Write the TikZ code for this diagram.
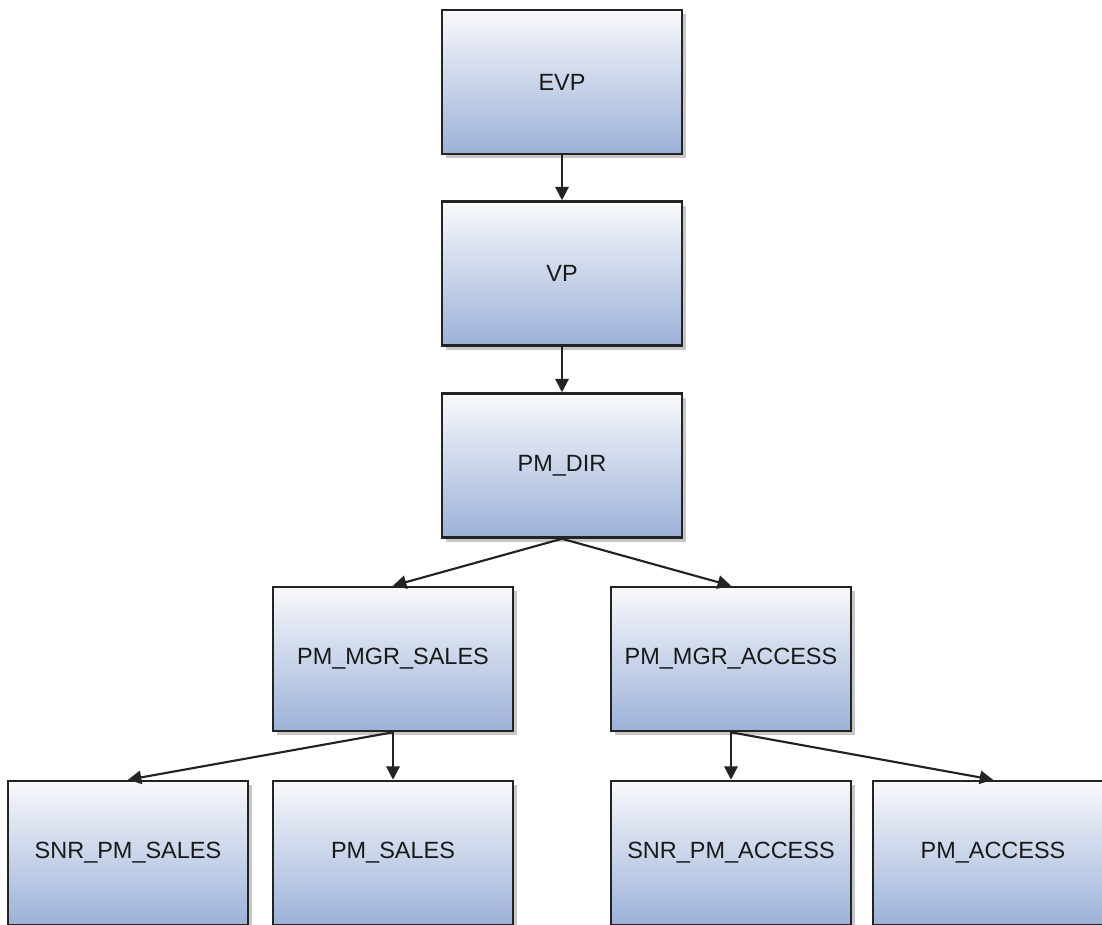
\documentclass[tikz,border=0pt]{standalone}
\usepackage{fontspec}
\setmainfont{Liberation Sans}
\usetikzlibrary{arrows.meta,shadows}
\definecolor{boxtop}{RGB}{248,249,251}
\definecolor{boxbot}{RGB}{156,177,217}
\definecolor{edge}{RGB}{35,35,35}
\tikzset{
  rolebox/.style={draw=edge, line width=1.9pt, rectangle,
    minimum width=180pt, minimum height=108pt, inner sep=0pt,
    top color=boxtop, bottom color=boxbot,
    font=\fontsize{17.6pt}{20pt}\selectfont, text=black!90,
    drop shadow={shadow xshift=3pt, shadow yshift=-3pt, opacity=0.22, fill=black}},
  link/.style={draw=edge, line width=1.6pt, -{Triangle[length=10pt,width=10pt]}}
}
\begin{document}
\begin{tikzpicture}[x=0.75pt,y=-0.75pt]
\useasboundingbox (0,0) rectangle (1102,924);
\node[rolebox] (evp) at (562,82) {EVP};
\node[rolebox] (vp) at (562,273.5) {VP};
\node[rolebox] (dir) at (562,465.5) {PM\_DIR};
\node[rolebox] (mgrs) at (393,659) {PM\_MGR\_SALES};
\node[rolebox] (mgra) at (731,659) {PM\_MGR\_ACCESS};
\node[rolebox] (snrs) at (128,853) {SNR\_PM\_SALES};
\node[rolebox] (pms) at (393,853) {PM\_SALES};
\node[rolebox] (snra) at (731,853) {SNR\_PM\_ACCESS};
\node[rolebox] (pma) at (993,853) {PM\_ACCESS};
\draw[link] (evp.south) -- (vp.north);
\draw[link] (vp.south) -- (dir.north);
\draw[link] (dir.south) -- (mgrs.north);
\draw[link] (dir.south) -- (mgra.north);
\draw[link] (mgrs.south) -- (snrs.north);
\draw[link] (mgrs.south) -- (pms.north);
\draw[link] (mgra.south) -- (snra.north);
\draw[link] (mgra.south) -- (pma.north);
\end{tikzpicture}
\end{document}
